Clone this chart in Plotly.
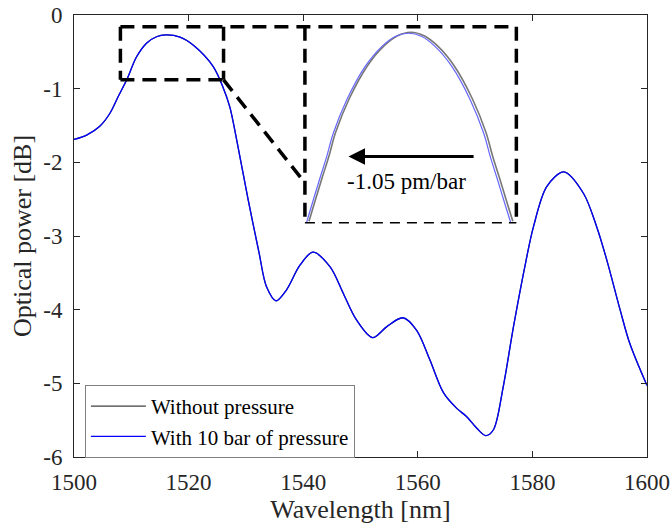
import plotly.graph_objects as go

# ---- main spectrum ----
wavelength_nm = [1500.0, 1502.2, 1504.5, 1506.3, 1507.7, 1509.2, 1510.9, 1512.7, 1514.4, 1516.0,
                 1518.5, 1521.0, 1524.3, 1526.0, 1527.2, 1528.4, 1530.4, 1532.3, 1533.6, 1535.25,
                 1537.1, 1539.4, 1541.7, 1544.7, 1547.0, 1549.3, 1552.1, 1554.6, 1557.4, 1559.8,
                 1562.1, 1564.5, 1566.8, 1568.5, 1570.3, 1571.85, 1573.2, 1574.9, 1576.7, 1578.9,
                 1580.2, 1582.5, 1585.5, 1588.9, 1591.2, 1593.0, 1595.3, 1597.0, 1600.0]
power_without_db = [-1.69, -1.63, -1.51, -1.33, -1.11, -0.88, -0.57, -0.38, -0.295, -0.27,
                    -0.30, -0.42, -0.70, -0.98, -1.25, -1.70, -2.51, -3.23, -3.69, -3.88,
                    -3.73, -3.40, -3.22, -3.42, -3.78, -4.14, -4.38, -4.23, -4.11, -4.28,
                    -4.68, -5.13, -5.34, -5.45, -5.61, -5.71, -5.63, -5.05, -4.23, -3.33,
                    -2.87, -2.33, -2.13, -2.42, -2.87, -3.33, -4.00, -4.46, -5.03]
power_with_db = list(power_without_db)

# ---- inset (zoomed peak), drawn in main-axis coordinates ----
inset_with_wl = [1540.61, 1541.76, 1542.93, 1544.10, 1545.25, 1547.59, 1550.79, 1553.70, 1556.06, 1558.38,
                 1560.70, 1563.05, 1565.97, 1569.16, 1571.50, 1572.65, 1573.82, 1574.99, 1576.18]
inset_with_db = [-2.81, -2.511, -2.213, -1.923, -1.606, -1.154, -0.702, -0.430, -0.292, -0.248,
                 -0.292, -0.430, -0.702, -1.154, -1.606, -1.923, -2.213, -2.511, -2.81]
inset_without_wl = [1541.01, 1542.16, 1543.33, 1544.50, 1545.65, 1547.99, 1551.19, 1554.10, 1556.46, 1558.78,
                    1561.10, 1563.45, 1566.37, 1569.56, 1571.90, 1573.05, 1574.22, 1575.39, 1576.58]
inset_without_db = [-2.80, -2.501, -2.203, -1.913, -1.596, -1.144, -0.692, -0.420, -0.282, -0.234,
                    -0.282, -0.420, -0.692, -1.144, -1.596, -1.913, -2.203, -2.501, -2.80]

x_ticks = [1500, 1520, 1540, 1560, 1580, 1600]
x_tick_labels = ["1500", "1520", "1540", "1560", "1580", "1600"]
y_ticks = [0, -1, -2, -3, -4, -5, -6]
y_tick_labels = ["0", "-1", "-2", "-3", "-4", "-5", "-6"]

series_names = ["Without pressure", "With 10 bar of pressure"]
shift_label = "-1.05 pm/bar"

FONT = "Liberation Serif, Times New Roman, serif"
AX = "#262626"

fig = go.Figure()
fig.add_trace(go.Scatter(x=wavelength_nm, y=power_without_db, mode="lines", name=series_names[0],
                         line=dict(color="#404040", width=1.3, shape="spline", smoothing=0.9)))
fig.add_trace(go.Scatter(x=wavelength_nm, y=power_with_db, mode="lines", name=series_names[1],
                         line=dict(color="#0000ff", width=1.3, shape="spline", smoothing=0.9)))
fig.add_trace(go.Scatter(x=inset_without_wl, y=inset_without_db, mode="lines", showlegend=False,
                         line=dict(color="#777777", width=1.6, shape="spline", smoothing=1.0)))
fig.add_trace(go.Scatter(x=inset_with_wl, y=inset_with_db, mode="lines", showlegend=False,
                         line=dict(color="#6666ff", width=1.2, shape="spline", smoothing=1.0)))

# zoom box and connector (dashed)
thick = dict(color="black", width=3.5, dash="14px,8px")
thin = dict(color="black", width=1.5, dash="10px,7px")
box_x0, box_x1, box_y0, box_y1 = 1508.1, 1526.1, -0.88, -0.16
ins_x0, ins_x1, ins_y0, ins_y1 = 1540.3, 1577.2, -2.82, -0.16
conn_y = -2.28
segs = [
    (box_x0, box_y1, ins_x1, ins_y1, thick),
    (box_x0, box_y1, box_x0, box_y0, thick),
    (box_x0, box_y0, box_x1, box_y0, thick),
    (box_x1, box_y1, box_x1, box_y0, thick),
    (box_x1, box_y0, ins_x0, conn_y, thick),
    (ins_x0, ins_y1, ins_x0, ins_y0, thick),
    (ins_x1, ins_y1, ins_x1, ins_y0, thick),
    (ins_x0, ins_y0, ins_x1, ins_y0, thin),
]
for x0, y0, x1, y1, ln in segs:
    fig.add_shape(type="line", x0=x0, y0=y0, x1=x1, y1=y1, xref="x", yref="y", line=ln)

fig.add_annotation(x=1547.9, y=-1.92, ax=1570.0, ay=-1.92, xref="x", yref="y", axref="x", ayref="y",
                   text="", showarrow=True, arrowhead=2, arrowsize=1.1, arrowwidth=3, arrowcolor="black")
fig.add_annotation(x=1558.0, y=-2.26, xref="x", yref="y", text=shift_label, showarrow=False,
                   font=dict(family=FONT, size=23, color="black"))

axis_common = dict(showline=True, linecolor=AX, linewidth=1, mirror="ticks", ticks="inside",
                   ticklen=6, tickcolor=AX, showgrid=False, zeroline=False, automargin=False,
                   ticklabeloverflow="allow",
                   tickfont=dict(family=FONT, size=23, color=AX))
fig.update_layout(
    width=671, height=526,
    margin=dict(l=74, r=24, t=15, b=69, autoexpand=False),
    paper_bgcolor="white", plot_bgcolor="white",
    xaxis=dict(range=[1500, 1600], tickmode="array", tickvals=x_ticks, ticktext=x_tick_labels,
               title=dict(text="Wavelength [nm]", font=dict(family=FONT, size=26, color=AX), standoff=5),
               ticklabelstandoff=4, **axis_common),
    yaxis=dict(range=[-6, 0], tickmode="array", tickvals=y_ticks, ticktext=y_tick_labels,
               title=dict(text="Optical power [dB]", font=dict(family=FONT, size=26, color=AX), standoff=4),
               ticklabelstandoff=6, **axis_common),
    legend=dict(x=0.019, y=0.163, xanchor="left", yanchor="top", bgcolor="white",
                bordercolor="#808080", borderwidth=1, font=dict(family=FONT, size=21, color="black"),
                tracegroupgap=0, itemwidth=55),
    showlegend=True,
)
# remove the default 8px page margin so the figure fills the window exactly
fig.write_html("out.html", config={"displayModeBar": False},
               post_script="document.body.style.margin='0';")
